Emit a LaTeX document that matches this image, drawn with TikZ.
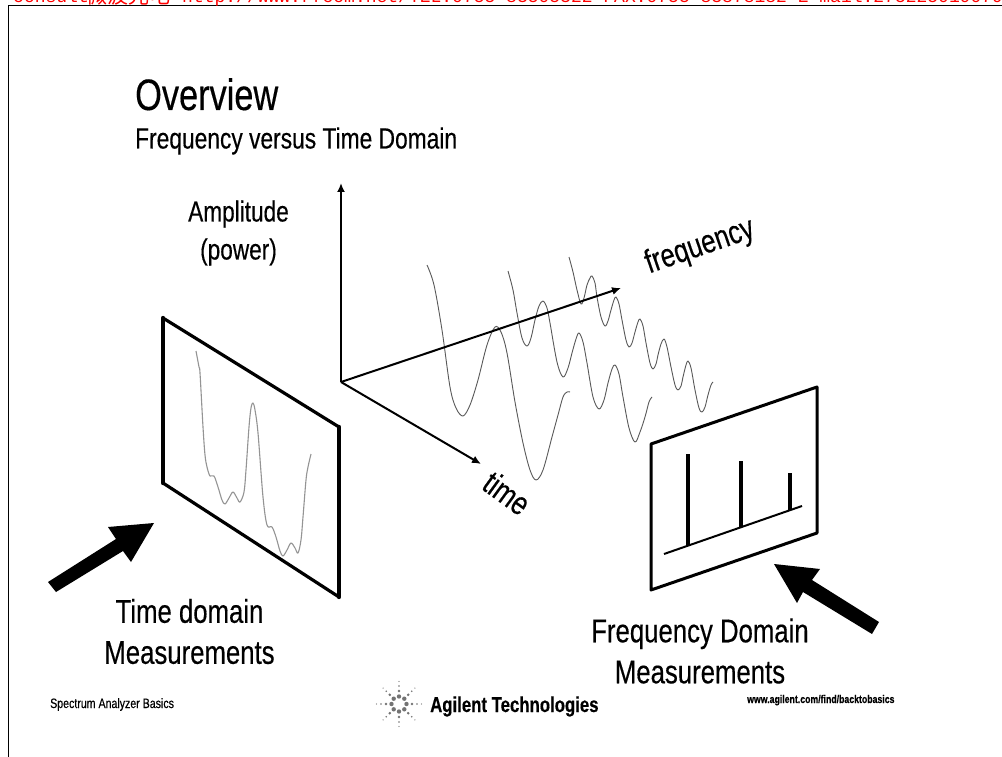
\documentclass[tikz,border=0pt]{standalone}
\usepackage{fontspec}
\setmainfont[FakeStretch=0.78,FakeBold=0.35]{Liberation Sans}
\newfontfamily\cjkfont{Noto Sans CJK SC}
\newfontfamily\redmono{Liberation Mono}
\usetikzlibrary{arrows.meta}
\tikzset{
  axis/.style={draw=black,line width=2pt,-{Latex[length=9pt,width=8pt]}},
  wave/.style={draw=black!65,line width=0.9pt,smooth,tension=0.55,line join=round},
  twave/.style={draw=black!42,line width=1.1pt,smooth,tension=0.55,line join=round},
  paneledgeA/.style={draw=black,line width=4.4pt,line cap=round},
  paneledgeB/.style={draw=black,line width=3.2pt,line cap=round},
  paneledgeC/.style={draw=black,line width=3pt,line join=round},
  spike/.style={draw=black,line width=3.2pt},
  bigarrow/.style={fill=black,draw=none},
  lab/.style={inner sep=0pt,text=black,align=center},
  big/.style={lab,font=\fontsize{33}{41}\selectfont},
  small/.style={lab,font=\fontsize{13.6}{16}\selectfont},
  redtext/.style={anchor=base west,inner sep=0pt,text=red,font=\fontsize{18}{20}\redmono},
  dot/.style={fill=black!55,draw=none}
}
\begin{document}
\begin{tikzpicture}[x=1pt,y=-1pt]
\useasboundingbox (0,0) rectangle (1002,757);
\fill[white] (0,0) rectangle (1002,757);
% page frame
\coordinate (f1) at (8.5,757); \coordinate (f2) at (8.5,5.5); \coordinate (f3) at (1002,5.5);
\draw[black,line width=1.4pt] (f1) -- (f2) -- (f3);
% red banner
\begin{scope}
\clip (0,0) rectangle (1002,757);
\node[redtext] (bannerA) at (13,3) {consult};
\node[redtext,font=\fontsize{21}{22}\cjkfont] (bannerB) at (86,3.5) {微波光电};
\node[redtext] (bannerC) at (182,3) {http://www.rfcom.net/TEL:0755-83505322 FAX:0755-83878182 E-mail:2752250190791538};
\end{scope}
% titles
\node[lab,anchor=base west,font=\fontsize{44}{46}\selectfont] (title) at (135,110) {Overview};
\node[lab,anchor=base west,font=\fontsize{29.2}{32}\selectfont] (subtitle) at (135,148.5) {Frequency versus Time Domain};
\node[big,font=\fontsize{29}{38}\selectfont] (amp) at (238.5,233) {Amplitude\\(power)};
% axes
\coordinate (o) at (341,382);
\coordinate (up) at (341,183);
\coordinate (fq) at (621,288);
\coordinate (tm) at (481,464);
% waves
\draw[wave] plot coordinates {(427,265)(434,285)(442,330)(450,387)(456,408)(463,416)(470,405)(478,380)(487,345)(495,327)(501,332)(507,353)(515,402)(523,443)(530,470)(536,480)(543,470)(552,437)(558,415)(563,397)(567,392)(570,392)};
\draw[wave] plot coordinates {(508,271)(513,290)(517,313)(522,338)(527,346)(531,338)(535,320)(539,306)(543,301)(547,308)(550,323)(557,362)(563,377)(568,368)(572,353)(576,339)(579,333)(583,342)(587,363)(593,397)(599,409)(604,400)(608,383)(612,369)(615,365)(619,374)(623,397)(629,428)(635,442)(640,432)(645,417)(649,402)(652,397)};
\draw[wave] plot coordinates {(569,257)(573,272)(577,290)(581,304)(584,298)(587,285)(590,278)(592,276)(595,283)(597,297)(601,317)(605,326)(608,321)(611,310)(614,300)(616,297)(619,304)(622,320)(626,340)(629,347)(632,343)(635,332)(638,322)(640,319)(643,326)(646,343)(650,363)(653,369)(656,364)(658,355)(661,344)(664,339)(667,347)(671,367)(675,385)(678,390)(681,386)(683,377)(686,365)(688,361)(691,368)(695,390)(699,408)(702,412)(705,407)(708,395)(711,385)(713,382)};
\draw[axis] (o) -- (up);
\draw[axis] (o) -- (fq);
\draw[axis] (o) -- (tm);
\node[big,rotate=19] (fqlab) at (700,247) {frequency};
\node[big,rotate=-36] (tmlab) at (507,493) {time};
% time-domain panel
\coordinate (a1) at (163,318); \coordinate (a2) at (339,427); \coordinate (a3) at (339,597); \coordinate (a4) at (163,483);
\draw[paneledgeA] (a1) -- (a4);
\draw[paneledgeA] (a2) -- (a3);
\draw[paneledgeB] (a1) -- (a2);
\draw[paneledgeB] (a4) -- (a3);
\draw[twave] plot coordinates {(196,351)(199,367)(200,373)(203,427)(205,455)(207,467)(210,476)(214,476)(218,487)(222,500)(225,504)(229,498)(233,492)(237,498)(240,502)(244,492)(246,470)(249,427)(251,408)(253,403)(255,410)(258,433)(263,497)(267,525)(272,527)(276,537)(280,551)(283,556)(287,550)(291,543)(295,548)(298,553)(301,540)(303,517)(306,480)(308,467)(311,454)};
% frequency-domain panel
\coordinate (b1) at (651,444); \coordinate (b2) at (817,387); \coordinate (b3) at (817,533); \coordinate (b4) at (651,590);
\draw[paneledgeC] (b1) -- (b2) -- (b3) -- (b4) -- cycle;
\coordinate (bl) at (664,554); \coordinate (br) at (802,506);
\draw[black,line width=2pt] (bl) -- (br);
\coordinate (s1) at (688,454); \coordinate (s1b) at (688,546);
\coordinate (s2) at (741,461); \coordinate (s2b) at (741,527);
\coordinate (s3) at (790,473); \coordinate (s3b) at (790,510);
\draw[spike] (s1) -- (s1b);
\draw[spike] (s2) -- (s2b);
\draw[spike] (s3) -- (s3b);
% big arrows
\fill[bigarrow] (154,523) -- (108,527) -- (116,539) -- (48,582) -- (56,592) -- (123,551) -- (131,562) -- cycle;
\fill[bigarrow] (774,564) -- (820,569) -- (812,580) -- (879,622) -- (872,634) -- (803,592) -- (797,603) -- cycle;
% labels
\node[big] (tdlab) at (189.5,631.5) {Time domain\\Measurements};
\node[big] (fdlab) at (700,651) {Frequency Domain\\Measurements};
% footer
\node[small,anchor=base west] (foot) at (50,708) {Spectrum Analyzer Basics};
\foreach \a in {0,45,...,315}{
  \fill[dot] (399,704) ++(\a:7.5) circle (2.2);
  \fill[dot] (399,704) ++(\a:13) circle (1.4);
  \fill[dot] (399,704) ++(\a:18) circle (0.9);
  \fill[dot] (399,704) ++(\a:22.5) circle (0.6);
}
\node[lab,anchor=base west,font=\fontsize{21.5}{24}\bfseries] (agilent) at (430,712) {Agilent Technologies};
\node[lab,anchor=base west,font=\fontsize{11.2}{13}\bfseries] (url) at (747,703) {www.agilent.com/find/backtobasics};
\end{tikzpicture}
\end{document}
